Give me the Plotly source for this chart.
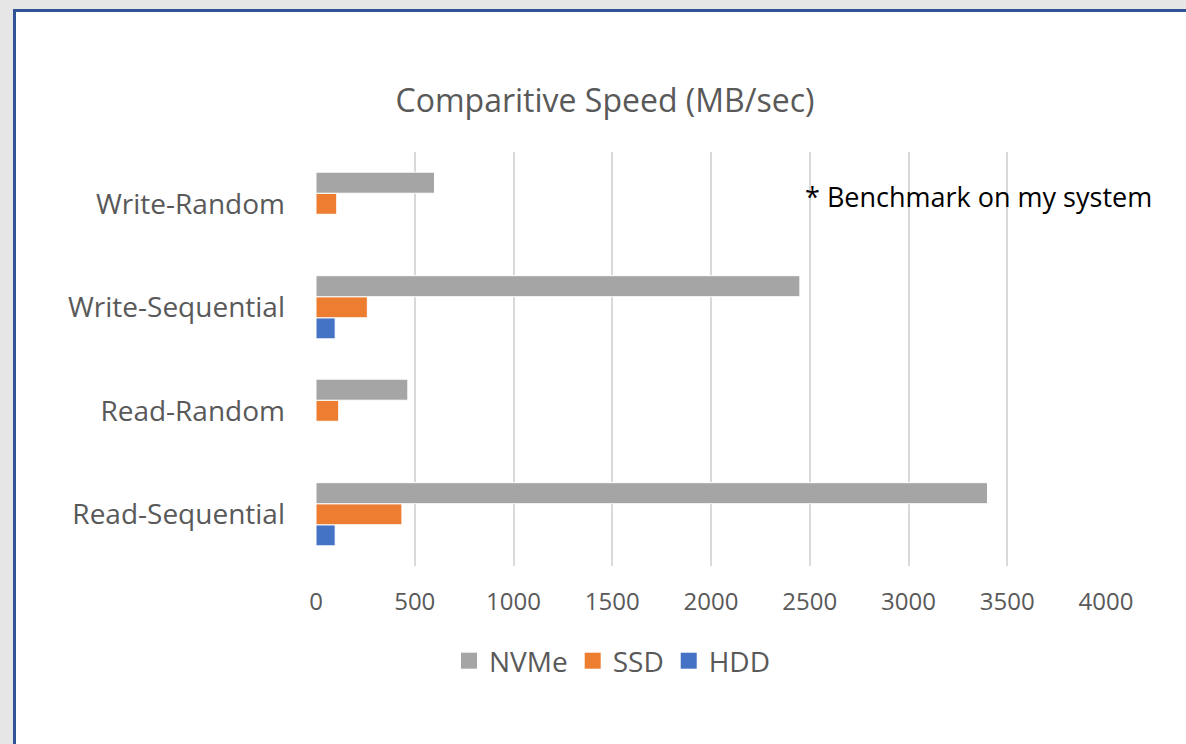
import plotly.graph_objects as go

categories = ["Read-Sequential", "Read-Random", "Write-Sequential", "Write-Random"]
nvme = [3400, 465, 2450, 600]
ssd = [435, 115, 260, 105]
hdd = [97, None, 97, None]
x_ticks = [0, 500, 1000, 1500, 2000, 2500, 3000, 3500, 4000]
series_names = ["NVMe", "SSD", "HDD"]
series_colors = {"NVMe": "#a5a5a5", "SSD": "#ed7d31", "HDD": "#4472c4"}

W, H = 1186, 744
ML, MR, MT, MB = 316, 80, 152, 178
PW, PH = W - ML - MR, H - MT - MB

def px(x):
    return (x - ML) / PW

def py(y):
    return 1 - (y - MT) / PH

TXT = "#595959"
FONT = "Open Sans"

fig = go.Figure()
for name, vals in [("HDD", hdd), ("SSD", ssd), ("NVMe", nvme)]:
    fig.add_trace(go.Bar(y=categories, x=vals, name=name, orientation="h", showlegend=False,
                         legendgroup=name,
                         marker=dict(color=series_colors[name], line=dict(color="white", width=1))))

# legend entries with square swatches
for name in series_names:
    fig.add_trace(go.Scatter(x=[None], y=[None], mode="markers", name=name, legendgroup=name,
                             marker=dict(symbol="square", size=17, color=series_colors[name])))

shapes = [
    dict(type="rect", xref="paper", yref="paper", x0=px(0), x1=px(W), y0=py(0), y1=py(10),
         fillcolor="#e6e6e6", line=dict(width=0), layer="below"),
    dict(type="rect", xref="paper", yref="paper", x0=px(0), x1=px(13), y0=py(0), y1=py(H),
         fillcolor="#e6e6e6", line=dict(width=0), layer="below"),
    dict(type="line", xref="paper", yref="paper", x0=px(14.5), x1=px(14.5), y0=py(10), y1=py(H),
         line=dict(color="#2f5597", width=3)),
    dict(type="line", xref="paper", yref="paper", x0=px(13), x1=px(W), y0=py(10.5), y1=py(10.5),
         line=dict(color="#2f5597", width=3)),
]

fig.update_layout(
    width=W, height=H, autosize=False,
    margin=dict(l=ML, r=MR, t=MT, b=MB),
    paper_bgcolor="white", plot_bgcolor="white",
    barmode="group", bargap=0.39, bargroupgap=0,
    font=dict(family=FONT, color=TXT),
    title=dict(text="Comparitive Speed (MB/sec)", xref="container", x=605 / W, xanchor="center",
               yref="container", y=1 - 101 / H, yanchor="middle",
               font=dict(size=32, color=TXT, family=FONT)),
    xaxis=dict(range=[0, 4000], tickvals=x_ticks, showgrid=True, gridcolor="#d9d9d9", gridwidth=2,
               zeroline=False, showline=False, ticks="", tickfont=dict(size=24, color=TXT),
               ticklabelstandoff=19),
    yaxis=dict(showgrid=False, showline=False, ticks="", tickfont=dict(size=28, color=TXT),
               ticklabelstandoff=30),
    legend=dict(orientation="h", x=px(612), xanchor="center", y=py(661), yanchor="middle",
                font=dict(size=28, color=TXT), itemwidth=30,
                bgcolor="rgba(0,0,0,0)"),
    annotations=[dict(text="* Benchmark on my system", xref="paper", yref="paper",
                      x=px(803), y=py(196), xanchor="left", yanchor="middle", showarrow=False,
                      font=dict(size=27, color="black", family=FONT))],
    shapes=shapes,
)

fig.write_html("out.html", config={"displayModeBar": False},
               post_script="document.body.style.margin='0';document.body.style.overflow='hidden';")
